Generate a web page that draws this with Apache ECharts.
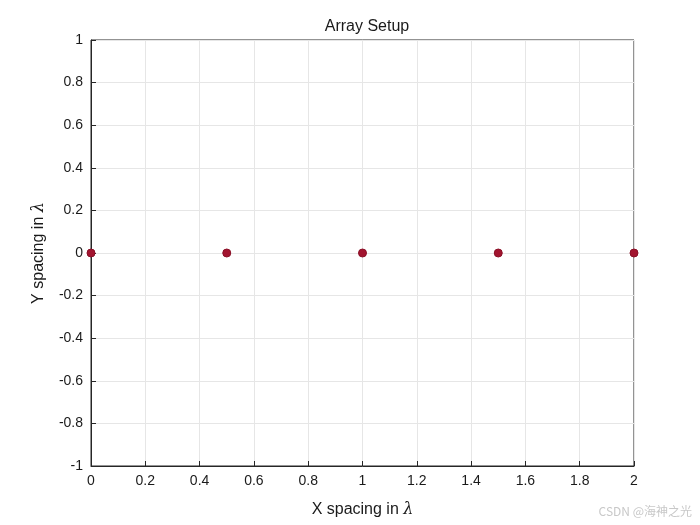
<!DOCTYPE html>
<html><head><meta charset="utf-8">
<script src="https://cdn.jsdelivr.net/npm/echarts@6/dist/echarts.min.js"></script>
<style>html,body{margin:0;background:#fff}#c{width:700px;height:525px}</style>
</head><body><div id="c"></div>
<script>
const xPos = [0, 0.5, 1, 1.5, 2];
const yPos = [0, 0, 0, 0, 0];
const chart = echarts.init(document.getElementById('c'));
const ff = 'Liberation Sans, Arial, sans-serif';
chart.setOption({
  backgroundColor: '#fff',
  animation: false,
  title: {text: 'Array Setup', left: 362, top: 14, textAlign: 'center',
    textStyle: {fontFamily: ff, fontSize: 16, fontWeight: 'normal', color: '#1a1a1a'}},
  grid: {left: 91, right: 66, top: 40, bottom: 59, show: true, borderColor: '#262626', borderWidth: 1},
  xAxis: {type: 'value', min: 0, max: 2, interval: 0.2,
    name: 'X spacing in {l|λ}', nameLocation: 'middle', nameGap: 36,
    nameTextStyle: {fontFamily: ff, fontSize: 16, color: '#1a1a1a', rich: {l: {fontStyle: 'italic', fontSize: 16, fontFamily: 'DejaVu Serif'}}},
    axisLine: {show: true, onZero: false, lineStyle: {color: '#262626'}},
    axisTick: {show: true, inside: true, length: 5, lineStyle: {color: '#262626'}},
    axisLabel: {fontFamily: ff, fontSize: 14, color: '#1a1a1a', margin: 8, formatter: v => +v.toFixed(1) + ''},
    splitLine: {show: true, lineStyle: {color: '#e6e6e6'}}},
  yAxis: {type: 'value', min: -1, max: 1, interval: 0.2,
    name: 'Y spacing in {l|λ}', nameLocation: 'middle', nameGap: 44, nameRotate: 90,
    nameTextStyle: {fontFamily: ff, fontSize: 16, color: '#1a1a1a', rich: {l: {fontStyle: 'italic', fontSize: 16, fontFamily: 'DejaVu Serif'}}},
    axisLine: {show: true, onZero: false, lineStyle: {color: '#262626'}},
    axisTick: {show: true, inside: true, length: 5, lineStyle: {color: '#262626'}},
    axisLabel: {fontFamily: ff, fontSize: 14, color: '#1a1a1a', margin: 8, formatter: v => +v.toFixed(1) + ''},
    splitLine: {show: true, lineStyle: {color: '#e6e6e6'}}},
  series: [{type: 'scatter', data: xPos.map((x, i) => [x, yPos[i]]), symbolSize: 8,
    itemStyle: {color: '#A2142F', borderColor: '#8a1027', borderWidth: 1, opacity: 1}}],
  graphic: [{type: 'text', right: 8, bottom: 8, style: {text: 'CSDN @海神之光', fill: '#c8c8c8', fontSize: 12, fontFamily: 'Noto Sans CJK SC'}}]
});
</script></body></html>
